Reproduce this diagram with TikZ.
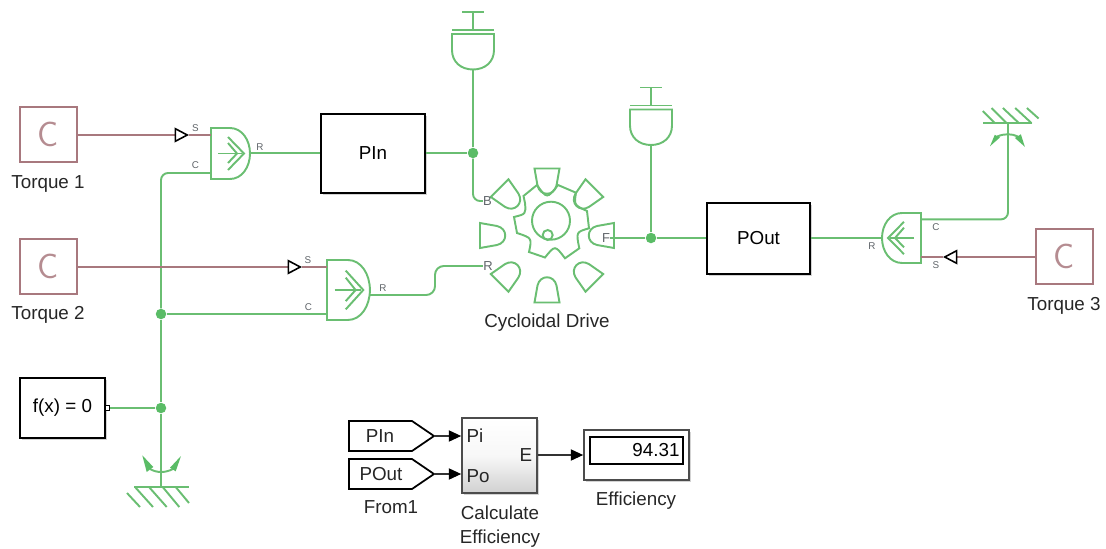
\documentclass[tikz,border=0pt]{standalone}
\usepackage{fontspec}
\usepackage{graphicx}
\setmainfont{Liberation Sans}
\usetikzlibrary{arrows.meta,positioning,calc,shadows}
\definecolor{physgreen}{RGB}{106,190,114}
\definecolor{juncgreen}{RGB}{90,188,102}
\definecolor{torquerose}{RGB}{168,120,126}
\definecolor{portgrey}{RGB}{95,100,105}
\tikzset{
  phys/.style={draw=physgreen,line width=1.1pt},
  rosewire/.style={draw=torquerose,line width=1pt},
  sigwire/.style={draw=black!80,line width=.6pt,-{Triangle[length=7pt,width=6.4pt,color=black]}},
  inport/.style={rosewire,-{Triangle[open,length=8.2pt,width=8.4pt,line width=.9pt,color=black]}},
  junc/.style={circle,fill=juncgreen,inner sep=0,minimum size=.21cm},
  lbl/.style={inner sep=0,font=\fontsize{10.7}{12}\selectfont,text=black!85},
  plab/.style={inner sep=0,font=\fontsize{5.6}{6}\selectfont,text=portgrey},
  dlab/.style={inner sep=0,font=\fontsize{7.4}{8}\selectfont,text=portgrey},
  block/.style={draw=black,line width=1pt,fill=white,inner sep=0,font=\fontsize{10.7}{12}\selectfont,
    drop shadow={shadow xshift=1pt,shadow yshift=-1pt,opacity=.35}},
  torq/.style={draw=torquerose,line width=1pt,minimum width=1.14cm,minimum height=1.1cm,inner sep=0,
    text=torquerose!85,font=\fontsize{20}{22}\sffamily},
  sensorD/.pic={
    \draw[phys] (0,0)--(19,0) .. controls (31,0) and (39,12) .. (39,25.5)
      .. controls (39,39) and (31,51) .. (19,51)--(0,51)--cycle;
    \draw[phys] (7,25.5)--(31,25.5);
    \draw[phys] (17,9)--(33,25.5)--(17,42);
    \draw[phys] (17,15)--(26,25.5)--(17,35);
    \coordinate (-top) at (0,6.5);
    \coordinate (-bot) at (0,45);
    \coordinate (-r) at (39,25);
  },
  inertia/.pic={
    \draw[phys] (-11,0)--(11,0) (0,0)--(0,18) (-21,18)--(21,18);
    \draw[phys] (-21,22)--(21,22)--(21,38) .. controls (21,50) and (12,57.5) .. (0,57.5)
      .. controls (-12,57.5) and (-21,50) .. (-21,38)--cycle;
    \coordinate (-p) at (0,57.5);
  },
  grounded/.pic={
    \draw[phys] (-27,0)--(28,0);
    \draw[phys] (-26,0)--(-8,20) (-12,0)--(5.7,20) (1.7,0)--(18.3,20) (14.7,0)--(28,16) (-34,6)--(-21,20);
    \draw[phys] (-11,-18) .. controls (-4,-14) and (4,-14) .. (12,-18);
    \fill[juncgreen] (-18.7,-31.7)--(-14.3,-15)--(-7.7,-20)--cycle;
    \fill[juncgreen] (20,-31)--(9,-19.3)--(14.7,-15.7)--cycle;
    \coordinate (-p) at (0,0);
  },
}

\begin{document}
\begin{tikzpicture}[x=0.02cm,y=-0.02cm]
\useasboundingbox (0,0) rectangle (1106,548);

% torque sources
\node[torq] (trq1) at (48.5,134.5) {C};
\node[torq] (trq2) at (48.5,266.5) {C};
\node[torq] (trq3) at (1064.5,256.5) {C};
\node[lbl] (trq1txt) at (48,183.5) {Torque 1};
\node[lbl] (trq2txt) at (48,314.5) {Torque 2};
\node[lbl] (trq3txt) at (1064,305.5) {Torque 3};

% sensors
\pic (sns1) at (211,128) {sensorD};
\pic[xscale=1.1,yscale=1.176] (sns2) at (327,260) {sensorD};
\pic[xscale=-1,yscale=.98] (sns3) at (921,213) {sensorD};
\coordinate (sns2r) at (369.5,295);
\coordinate (tip1) at (189,135);
\coordinate (tip2) at (302,267);
\coordinate (tip3) at (943,257);
\node[plab] (s1S) at (195.5,128) {S};
\node[plab] (s1C) at (195.5,165.5) {C};
\node[plab] (s1R) at (260,147) {R};
\node[plab] (s2S) at (308,260) {S};
\node[plab] (s2C) at (308.5,307) {C};
\node[plab] (s2R) at (383,288) {R};
\node[plab] (s3C) at (936,227) {C};
\node[plab] (s3R) at (872,246) {R};
\node[plab] (s3S) at (936,265) {S};

% big blocks
\node[block,minimum width=2.08cm,minimum height=1.58cm] (pin) at (373,153.5) {PIn};
\node[block,minimum width=2.06cm,minimum height=1.42cm] (pout) at (758.5,238.5) {POut};
\node[block,minimum width=1.7cm,minimum height=1.2cm] (fx) at (62.5,408) {f(x) = 0};
\node[draw=black,line width=.8pt,fill=white,inner sep=0,minimum size=.09cm] (fxprt) at (107.5,408) {};

% inertias and references
\pic (ine1) at (473,12) {inertia};
\pic (ine2) at (651,87.5) {inertia};
\pic (gnd1) at (161,487) {grounded};
\pic[xscale=-.9,yscale=-.75] (gnd2) at (1008,123) {grounded};

% cycloidal drive
\foreach \ang in {0,45,...,315}{
  \begin{scope}[shift={(547,235.5)},rotate=\ang]
  \draw[phys] (-12.5,-67)--(12.5,-67)--(9.5,-50) .. controls (7,-39) and (-7,-39) .. (-9.5,-50)--cycle;
  \end{scope}
}
\draw[phys] (537,185) .. controls (547,199) .. (558,185)--(576,192.7)
  .. controls (574,205) .. (587,211)--(589,228.3) .. controls (576,232) .. (579.3,248.3)--(565,258.3)
  .. controls (555,245) .. (545,257.5)--(529,252) .. controls (532,238) .. (517,233)--(514,217)
  .. controls (526,214) .. (525,203)--(523.5,196)--cycle;
\draw[phys] (551,220.7) circle (19);
\draw[phys] (547.7,235) circle (5);
\node[dlab] (portB) at (487.5,201) {B};
\node[dlab] (portR) at (488,266) {R};
\node[dlab] (portF) at (606,238) {F};
\node[lbl] (drvtxt) at (547,322.5) {Cycloidal Drive};

% junctions
\node[junc] (j1) at (473,153) {};
\node[junc] (j2) at (651,238) {};
\node[junc] (j3) at (161,314) {};
\node[junc] (j4) at (161,408) {};

% green connections
\draw[phys,rounded corners=4pt] (sns1-bot) -| (j3);
\draw[phys] (j3)--(j4)--(gnd1-p);
\draw[phys] (j3)--(j3 -| sns2-bot);
\draw[phys] (fxprt.east)--(j4);
\draw[phys] (sns1-r)--(pin.west |- sns1-r);
\draw[phys] (pin.east |- j1)--(j1)--(ine1-p);
\draw[phys,rounded corners=4pt] (j1) |- (portB.west);
\draw[phys,rounded corners=5pt] (sns2r) -- ++(65.5,0) |- (portR.west);
\draw[phys] (portF.east)--(j2)--(ine2-p);
\draw[phys] (j2)--(pout.west |- j2);
\draw[phys] (pout.east |- j2)--(j2 -| sns3-r);
\draw[phys,rounded corners=4pt] (sns3-top) -| (gnd2-p);

% torque wires
\draw[inport] (trq1.east |- tip1)--(tip1);
\draw[rosewire] (tip1)--(tip1 -| sns1-top);
\draw[inport] (trq2.east |- tip2)--(tip2);
\draw[rosewire] (tip2)--(tip2 -| sns2-top);
\draw[inport] (trq3.west |- tip3)--(tip3);
\draw[rosewire] (tip3)--(tip3 -| sns3-bot);

% efficiency part
\foreach \ypos/\txt/\nm/\xtxt in {436/PIn/frmin/380,474/POut/frmout/381}{
  \draw[draw=black,line width=1pt,fill=white] (349,\ypos-15)--(412,\ypos-15)--(434,\ypos)--(412,\ypos+15)
    --(349,\ypos+15)--cycle;
  \node[lbl] (\nm txt) at (\xtxt,\ypos) {\txt};
  \coordinate (\nm) at (434,\ypos);
}
\node[lbl] (frmtxt) at (391,507) {From1};
\node[draw=black!70,line width=1pt,top color=white,bottom color=black!18,middle color=black!3,inner sep=0,minimum width=1.5cm,minimum height=1.5cm,
  drop shadow={shadow xshift=1pt,shadow yshift=-1pt,opacity=.35}] (calc) at (499.5,455.5) {};
\node[lbl] (calPi) at (475,436) {Pi};
\node[lbl] (calPo) at (478,476) {Po};
\node[lbl] (calE) at (526,455) {E};
\node[lbl,align=center,font=\fontsize{10.7}{13.7}\selectfont] (caltxt) at (500,526.5) {Calculate\\Efficiency};
\node[block,draw=black!70,minimum width=2.1cm,minimum height=1cm] (disp) at (636.5,455) {};
\node[draw=black,line width=.8pt,inner sep=2pt,text width=1.72cm,align=right,minimum height=.54cm,
  font=\fontsize{10.7}{12}\selectfont] (dispval) at (636.5,450.5) {94.31};
\node[lbl] (disptxt) at (636,500.5) {Efficiency};
\draw[sigwire] (frmin)--(calc.west |- frmin);
\draw[sigwire] (frmout)--(calc.west |- frmout);
\draw[sigwire] (calc.east |- disp)--(disp.west);
\end{tikzpicture}
\end{document}
